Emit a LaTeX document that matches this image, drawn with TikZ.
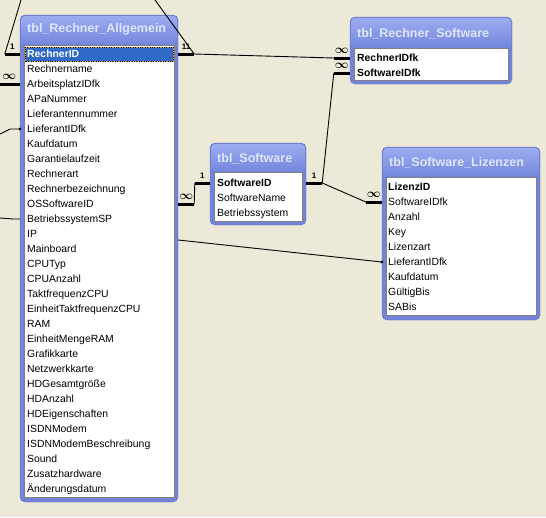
\documentclass[tikz,border=0pt]{standalone}
\usepackage{fontspec}
\setmainfont{Liberation Sans}
\usetikzlibrary{calc}

\definecolor{deskgray}{HTML}{ECE9D8}
\definecolor{framblue}{HTML}{7283DA}
\definecolor{titletop}{HTML}{9CACF0}
\definecolor{titlebottom}{HTML}{7587DD}
\definecolor{titletext}{HTML}{DEE6FD}
\definecolor{selblue}{HTML}{3169C6}
\definecolor{focusgold}{HTML}{C8A040}

\newcommand{\relmany}{{\fontsize{11.5}{11.5}\selectfont\boldmath$\infty$}}

\begin{document}
\begin{tikzpicture}[x=1pt, y=-1pt,
		tabframe/.style={fill=framblue, draw=framblue!85!black, rounded corners=5pt, inner sep=0pt},
		titlebar/.style={top color=titletop, bottom color=titlebottom, rounded corners=4pt, inner sep=0pt},
		fieldlist/.style={fill=white, draw=gray, inner sep=0pt},
		heading/.style={anchor=west, inner sep=0pt, text=titletext, text height=9pt, text depth=3pt, font=\fontsize{12.5}{14}\selectfont\bfseries},
		field/.style={anchor=west, inner sep=0pt, text height=8pt, text depth=2pt, font=\fontsize{10.4}{12}\selectfont},
		keyfield/.style={field, font=\fontsize{10.4}{12}\selectfont\bfseries},
		stub/.style={black, line width=3pt},
		link/.style={black, line width=0.9pt},
		card/.style={inner sep=0pt, above=3pt, midway, font=\fontsize{8}{8}\selectfont\bfseries}]

		\fill[deskgray]	(0, 0) rectangle (546, 517);
		\useasboundingbox	(0, 0) rectangle (546, 517);

		\node[tabframe, minimum width=158pt, minimum height=487pt]	(ra) at (99, 258.5) {};
		\node[titlebar, minimum width=156pt, minimum height=28pt]	(ra-bar) at (99, 30) {};
		\node[fieldlist, minimum width=150pt, minimum height=452pt]	(ra-list) at (99, 271) {};
		\node[heading]	(ra-name) at (27, 29) {tbl\_Rechner\_Allgemein};

		\node[fill=selblue, draw=focusgold, inner sep=0pt, minimum width=148pt, minimum height=14pt]	(ra-sel) at (99, 54) {};
		\draw[black, dotted]	(ra-sel.south west) rectangle (ra-sel.north east);
		\node[keyfield, text=white]	(ra-id) at (27, 54) {RechnerID};
		\node[field]	(ra-rechnername) at (27, 69) {Rechnername};
		\node[field]	(ra-arbeitsplatz) at (27, 84) {ArbeitsplatzIDfk};
		\node[field]	(ra-apa) at (27, 99) {APaNummer};
		\node[field]	(ra-lieferantennr) at (27, 114) {Lieferantennummer};
		\node[field]	(ra-lieferant) at (27, 129) {LieferantIDfk};
		\node[field]	(ra-kaufdatum) at (27, 144) {Kaufdatum};
		\node[field]	(ra-garantie) at (27, 159) {Garantielaufzeit};
		\node[field]	(ra-rechnerart) at (27, 174) {Rechnerart};
		\node[field]	(ra-bezeichnung) at (27, 189) {Rechnerbezeichnung};
		\node[field]	(ra-ossoftware) at (27, 204) {OSSoftwareID};
		\node[field]	(ra-betriebssp) at (27, 219) {BetriebssystemSP};
		\node[field]	(ra-ip) at (27, 234) {IP};
		\node[field]	(ra-mainboard) at (27, 249) {Mainboard};
		\node[field]	(ra-cputyp) at (27, 264) {CPUTyp};
		\node[field]	(ra-cpuanzahl) at (27, 279) {CPUAnzahl};
		\node[field]	(ra-takt) at (27, 294) {TaktfrequenzCPU};
		\node[field]	(ra-einheittakt) at (27, 309) {EinheitTaktfrequenzCPU};
		\node[field]	(ra-ram) at (27, 324) {RAM};
		\node[field]	(ra-einheitram) at (27, 339) {EinheitMengeRAM};
		\node[field]	(ra-grafik) at (27, 354) {Grafikkarte};
		\node[field]	(ra-netzwerk) at (27, 369) {Netzwerkkarte};
		\node[field]	(ra-hdgroesse) at (27, 384) {HDGesamtgröße};
		\node[field]	(ra-hdanzahl) at (27, 399) {HDAnzahl};
		\node[field]	(ra-hdeigen) at (27, 414) {HDEigenschaften};
		\node[field]	(ra-isdn) at (27, 429) {ISDNModem};
		\node[field]	(ra-isdnbeschr) at (27, 444) {ISDNModemBeschreibung};
		\node[field]	(ra-sound) at (27, 459) {Sound};
		\node[field]	(ra-zusatz) at (27, 474) {Zusatzhardware};
		\node[field]	(ra-aenderung) at (27, 489) {Änderungsdatum};

		\node[tabframe, minimum width=162pt, minimum height=67pt]	(rs) at (431, 50.5) {};
		\node[titlebar, minimum width=160pt, minimum height=29pt]	(rs-bar) at (431, 32.5) {};
		\node[fieldlist, minimum width=154pt, minimum height=32pt]	(rs-list) at (431, 64) {};
		\node[heading]	(rs-name) at (357, 34) {tbl\_Rechner\_Software};
		\node[keyfield]	(rs-rechner) at (357, 58) {RechnerIDfk};
		\node[keyfield]	(rs-software) at (357, 73) {SoftwareIDfk};

		\node[tabframe, minimum width=96pt, minimum height=82pt]	(sw) at (258, 184) {};
		\node[titlebar, minimum width=94pt, minimum height=27pt]	(sw-bar) at (258, 157.5) {};
		\node[fieldlist, minimum width=88pt, minimum height=49pt]	(sw-list) at (258, 196.5) {};
		\node[heading]	(sw-name) at (217, 159) {tbl\_Software};
		\node[keyfield]	(sw-id) at (217, 183) {SoftwareID};
		\node[field]	(sw-softwarename) at (217, 198) {SoftwareName};
		\node[field]	(sw-betriebssystem) at (217, 213) {Betriebssystem};

		\node[tabframe, minimum width=158pt, minimum height=173pt]	(sl) at (461, 233.5) {};
		\node[titlebar, minimum width=156pt, minimum height=28pt]	(sl-bar) at (461, 162) {};
		\node[fieldlist, minimum width=150pt, minimum height=138pt]	(sl-list) at (461, 246) {};
		\node[heading]	(sl-name) at (389, 163) {tbl\_Software\_Lizenzen};
		\node[keyfield]	(sl-id) at (388, 187) {LizenzID};
		\node[field]	(sl-software) at (388, 202) {SoftwareIDfk};
		\node[field]	(sl-anzahl) at (388, 217) {Anzahl};
		\node[field]	(sl-key) at (388, 232) {Key};
		\node[field]	(sl-lizenzart) at (388, 247) {Lizenzart};
		\node[field]	(sl-lieferant) at (388, 262) {LieferantIDfk};
		\node[field]	(sl-kaufdatum) at (388, 277) {Kaufdatum};
		\node[field]	(sl-gueltig) at (388, 292) {GültigBis};
		\node[field]	(sl-sabis) at (388, 307) {SABis};

		\coordinate	(top-left) at (21, 0);
		\coordinate	(top-right) at (155, 0);
		\coordinate	(edge-lieferant) at (0, 134);
		\coordinate	(edge-betrieb) at (0, 218);

		\draw[stub]	(ra.east |- ra-id) -- ++(16, 0) node[card] (c-ra-id-r) {11} coordinate (ra-id-r);
		\draw[stub]	(ra.west |- ra-id) -- ++(-15, 0) node[card] (c-ra-id-l) {1} coordinate (ra-id-l);
		\draw[stub]	(ra.west |- ra-arbeitsplatz) -- ++(-21, 0) node[card] (c-ra-ap) {\relmany} coordinate (ra-ap-l);
		\draw[stub]	(ra.east |- ra-ossoftware) -- ++(16, 0) node[card] (c-ra-os) {\relmany} coordinate (ra-os-r);
		\draw[stub]	(rs.west |- rs-rechner) -- ++(-16, 0) node[card] (c-rs-rechner) {\relmany} coordinate (rs-rechner-l);
		\draw[stub]	(rs.west |- rs-software) -- ++(-16, 0) node[card] (c-rs-software) {\relmany} coordinate (rs-software-l);
		\draw[stub]	(sw.west |- sw-id) -- ++(-15, 0) node[card] (c-sw-id-l) {1} coordinate (sw-id-l);
		\draw[stub]	(sw.east |- sw-id) -- ++(16, 0) node[card] (c-sw-id-r) {1} coordinate (sw-id-r);
		\draw[stub]	(sl.west |- sl-software) -- ++(-16, 0) node[card] (c-sl-software) {\relmany} coordinate (sl-software-l);

		\draw[link]	(ra-id-r) to (rs-rechner-l);
		\draw[link]	(top-right) to (ra-id-r);
		\draw[link]	(top-left) to (ra-id-l);
		\draw[link]	(ra-os-r) to (sw-id-l);
		\draw[link]	(sw-id-r) to (rs-software-l);
		\draw[link]	(sw-id-r) to (sl-software-l);
		\draw[link]	(edge-lieferant) to ++(10, -5) to (ra.west |- ra-lieferant);
		\draw[link]	(edge-betrieb) to ++(13, 1) to (ra.west |- ra-betriebssp);
		\draw[link]	($(ra.east |- ra-ip) + (0, 6)$) to (sl.west |- sl-lieferant);

		\fill[black]	(ra.west |- ra-lieferant) circle (1.5pt)
						(sl.west |- sl-lieferant) circle (1.5pt);
	\end{tikzpicture}
\end{document}
